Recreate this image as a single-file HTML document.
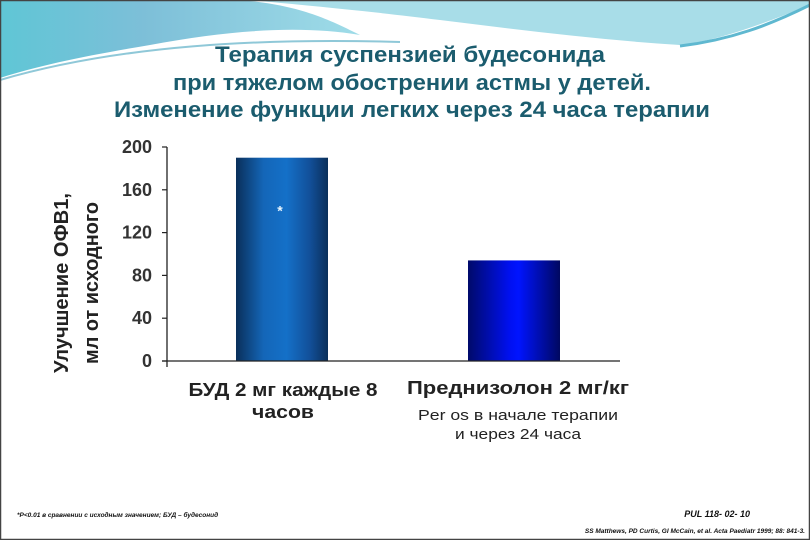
<!DOCTYPE html>
<html><head><meta charset="utf-8"><style>
html,body{margin:0;padding:0;background:#fff;}
svg{display:block;font-family:"Liberation Sans",sans-serif;}
</style></head><body>
<svg width="810" height="540" viewBox="0 0 810 540">
<defs>
<linearGradient id="sky" x1="0" y1="0" x2="1" y2="0">
<stop offset="0" stop-color="#5fc6d6"/><stop offset="0.4" stop-color="#7dbfd8"/><stop offset="1" stop-color="#9fdce8"/></linearGradient>
<linearGradient id="b1" x1="0" y1="0" x2="1" y2="0">
<stop offset="0" stop-color="#0a2f5a"/><stop offset="0.3" stop-color="#1466b8"/><stop offset="0.55" stop-color="#1470c8"/><stop offset="0.8" stop-color="#12509a"/><stop offset="1" stop-color="#0a2f5a"/></linearGradient>
<linearGradient id="b2" x1="0" y1="0" x2="1" y2="0">
<stop offset="0" stop-color="#000a6a"/><stop offset="0.45" stop-color="#0010f0"/><stop offset="0.55" stop-color="#0014ff"/><stop offset="1" stop-color="#000860"/></linearGradient>
</defs>
<rect x="0" y="0" width="810" height="540" fill="#fff"/>
<path d="M0 0 H240 C300 5 330 20 360 35 C300 25 230 30 150 45 C90 55 40 65 0 78 Z" fill="url(#sky)"/>
<path d="M250 0 H810 V5 C760 25 720 40 680 45 C600 40 520 30 440 20 C360 10 300 5 250 0 Z" fill="#a8dde8"/>
<path d="M0 80 C120 45 260 38 400 42" stroke="#8fc8d8" stroke-width="2" fill="none"/>
<path d="M680 46 C730 40 770 25 810 5" stroke="#5fb8d0" stroke-width="3" fill="none"/>
<rect x="0.5" y="0.5" width="809" height="539" fill="none" stroke="#444" stroke-width="1.5"/>
<g fill="#1b5c6e" font-weight="bold" font-size="22" text-anchor="middle">
<text x="410" y="62" textLength="390" lengthAdjust="spacingAndGlyphs">Терапия суспензией будесонида</text>
<text x="412" y="90" textLength="478" lengthAdjust="spacingAndGlyphs">при тяжелом обострении астмы у детей.</text>
<text x="412" y="117" textLength="596" lengthAdjust="spacingAndGlyphs">Изменение функции легких через 24 часа терапии</text>
</g>
<g id="chart"></g>
<g font-weight="bold" font-size="20" fill="#222" text-anchor="middle">
<text transform="translate(68,283) rotate(-90)" textLength="180" lengthAdjust="spacingAndGlyphs">Улучшение ОФВ1,</text>
<text transform="translate(98,283) rotate(-90)" textLength="162" lengthAdjust="spacingAndGlyphs">мл от исходного</text>
</g>
<g text-anchor="middle" fill="#222">
<text x="283" y="396" font-size="18" font-weight="bold" textLength="189" lengthAdjust="spacingAndGlyphs">БУД 2 мг каждые 8</text>
<text x="283" y="418" font-size="18" font-weight="bold" textLength="62" lengthAdjust="spacingAndGlyphs">часов</text>
<text x="518" y="394" font-size="18" font-weight="bold" textLength="222" lengthAdjust="spacingAndGlyphs">Преднизолон 2 мг/кг</text>
<text x="518" y="420" font-size="15" textLength="200" lengthAdjust="spacingAndGlyphs">Per os в начале терапии</text>
<text x="518" y="439" font-size="15" textLength="126" lengthAdjust="spacingAndGlyphs">и через 24 часа</text>
</g>
<text x="17" y="517" font-size="6.5" font-style="italic" font-weight="bold" fill="#111">*P&lt;0.01 в сравнении с исходным значением; БУД – будесонид</text>
<text x="750" y="517" font-size="9" font-style="italic" font-weight="bold" fill="#111" text-anchor="end">PUL 118- 02- 10</text>
<text x="805" y="533" font-size="6.5" font-style="italic" font-weight="bold" fill="#111" text-anchor="end">SS Matthews, PD Curtis, GI McCain, et al. Acta Paediatr 1999; 88: 841-3.</text>
</svg>
<script>
const categories = ["БУД", "Преднизолон"];
const values = [190, 94];
const ticks = [0, 40, 80, 120, 160, 200];
const fills = ["url(#b1)", "url(#b2)"];
const NS = "http://www.w3.org/2000/svg";
const g = document.getElementById("chart");
const y0 = 361, y1 = 147, xAxis = 167;
function y(v){ return y0 - (v/200)*(y0-y1); }
function mk(tag, attrs){ const e=document.createElementNS(NS,tag); for(const k in attrs) e.setAttribute(k,attrs[k]); g.appendChild(e); return e; }
const bx = [236, 468], bw = 92;
values.forEach((v,i)=>{
  const r = mk("rect",{x:bx[i],y:y(v),width:bw,height:y0-y(v),fill:fills[i]});
  
  
});
const star = mk("text",{x:280,y:y(values[0])+58,fill:"#e8f6ff","font-size":"14","font-weight":"bold","text-anchor":"middle"});
star.textContent="*";


const ya = mk("line",{x1:xAxis,y1:y1,x2:xAxis,y2:y0+6,stroke:"#222","stroke-width":1.3});


const xa = mk("line",{x1:162,y1:y0,x2:620,y2:y0,stroke:"#222","stroke-width":1.3});


ticks.forEach(t=>{
  const l = mk("line",{x1:162,y1:y(t),x2:xAxis,y2:y(t),stroke:"#222","stroke-width":1.2});
  
  
  const tx = mk("text",{x:152,y:y(t)+6,"text-anchor":"end","font-size":"18","font-weight":"bold",fill:"#333"});
  tx.textContent = t;
  
  
});
</script>
</body></html>
